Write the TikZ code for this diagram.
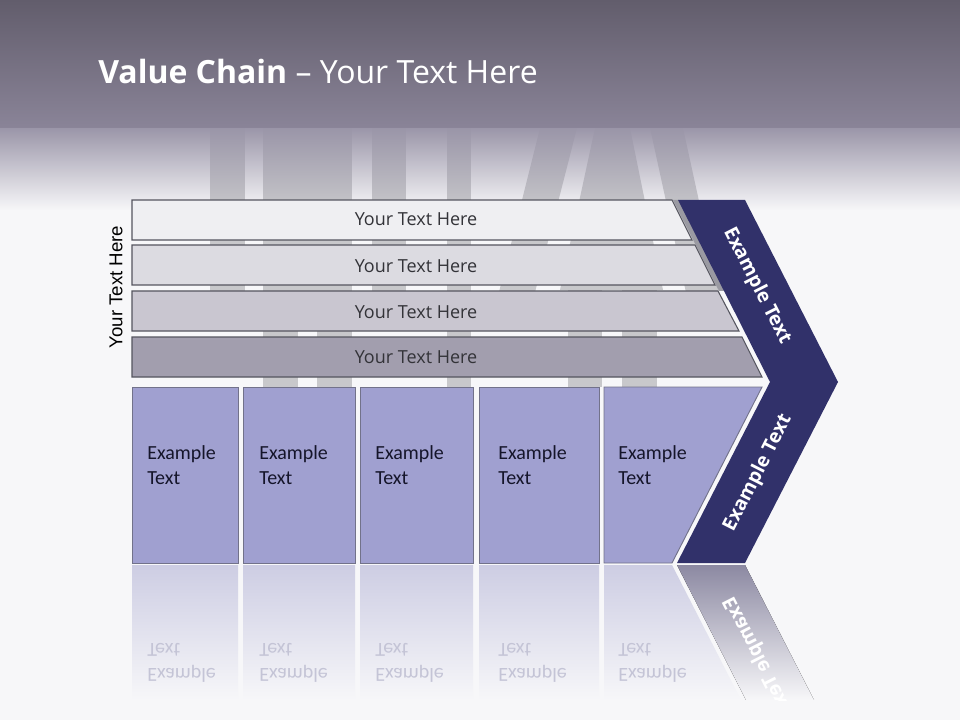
\documentclass[tikz,border=0pt]{standalone}
\usepackage{fontspec}
\setmainfont{Open Sans}
\newfontfamily\carl{Carlito}
\newfontfamily\lsans{Liberation Sans}
\usetikzlibrary{fadings}
\definecolor{bg}{HTML}{F7F7F9}
\definecolor{hdrtop}{HTML}{625D6C}
\definecolor{hdrbot}{HTML}{8A8498}
\definecolor{fadec}{HTML}{9A95A8}
\definecolor{stripe}{HTML}{C8C8CB}
\definecolor{rowa}{HTML}{EFEFF2}
\definecolor{rowb}{HTML}{DCDBE1}
\definecolor{rowc}{HTML}{C9C6D0}
\definecolor{rowd}{HTML}{A29EAE}
\definecolor{rowline}{HTML}{55555F}
\definecolor{rowtxt}{HTML}{333338}
\definecolor{navy}{HTML}{31316A}
\definecolor{shadowc}{HTML}{9A9AA2}
\definecolor{boxc}{HTML}{A0A0D0}
\definecolor{boxline}{HTML}{72728A}
\definecolor{boxtxt}{HTML}{15152A}
\definecolor{reflbox}{HTML}{CDCDE3}
\definecolor{reflnavy}{HTML}{8C89A2}
\definecolor{mirtxt}{HTML}{C4C4D6}
\tikzfading[name=fadedown, top color=transparent!0, bottom color=transparent!100]
\begin{document}
\begin{tikzpicture}[x=0.75pt,y=-0.75pt,
  rowshape/.style={fill=#1, draw=rowline, line width=0.8pt},
  rowtext/.style={font=\fontsize{13.5}{16}\selectfont, text=rowtxt, inner sep=0pt},
  boxshape/.style={fill=boxc, draw=boxline, line width=0.7pt},
  boxtext/.style={font=\carl\fontsize{15}{18.75}\selectfont, align=left, text=boxtxt, anchor=west, inner sep=0pt},
  mirbox/.style={top color=reflbox, bottom color=bg, draw=none},
  chevtext/.style={font=\bfseries\fontsize{14.5}{17}\selectfont, text=white, inner sep=0pt},
  stripefill/.style={fill=stripe}
]
\useasboundingbox (0,0) rectangle (960,720);
% background
\fill[bg] (0,0) rectangle (960,720);
% background stripes
\fill[stripefill] (210,128) rectangle (245,310);
\fill[stripefill] (263,128) rectangle (352,310);
\fill[stripefill] (263,310) rectangle (298,387);
\fill[stripefill] (317,310) rectangle (352,387);
\fill[stripefill] (372,128) rectangle (406,300);
\fill[stripefill] (447,128) rectangle (471,387);
\fill[stripefill] (540,128) -- (577,128) -- (533,300) -- (497,300) -- cycle;
\fill[stripefill] (595,128) -- (630,128) -- (663,290) -- (560,290) -- cycle;
\fill[stripefill] (650,128) -- (683,128) -- (725,320) -- (692,320) -- cycle;
\fill[stripefill] (568,288) rectangle (602,387);
\fill[stripefill] (622,288) rectangle (657,387);
% header fade band
\fill[fadec, path fading=fadedown, fit fading=true] (0,127) rectangle (960,210);
% header
\fill[top color=hdrtop, bottom color=hdrbot] (0,0) rectangle (960,128);
\node[anchor=base west, text=white, font=\fontsize{24}{29}\selectfont, inner sep=0pt] (title) at (98,84) {\textbf{Value Chain} – Your Text Here};
% left label
\node[font=\lsans\fontsize{14}{17}\selectfont, rotate=90, inner sep=0pt] (side) at (116,287) {Your Text Here};
% chevron shadow
\fill[shadowc] (673,200) -- (679,200) -- (725,291) -- (719,291) -- cycle;
% rows
\path[rowshape=rowa] (132,200) -- (672,200) -- (692,240) -- (132,240) -- cycle;
\path[rowshape=rowb] (132,245) -- (695,245) -- (715,285) -- (132,285) -- cycle;
\path[rowshape=rowc] (132,291) -- (718,291) -- (739,331) -- (132,331) -- cycle;
\path[rowshape=rowd] (132,337) -- (742,337) -- (762,377) -- (132,377) -- cycle;
\node[rowtext] (r1) at (416,219) {Your Text Here};
\node[rowtext] (r2) at (416,266) {Your Text Here};
\node[rowtext] (r3) at (416,312) {Your Text Here};
\node[rowtext] (r4) at (416,357) {Your Text Here};
% chevron
\fill[navy] (678,200) -- (745,200) -- (838,382) -- (745,563) -- (677,563) -- (770,382) -- cycle;
\node[chevtext, rotate=-63] (c1) at (757,286) {Example Text};
\node[chevtext, rotate=63] (c2) at (758,473) {Example Text};
% boxes
\path[boxshape] (132,387) rectangle (238,563);
\path[boxshape] (243,387) rectangle (355,563);
\path[boxshape] (360,387) rectangle (473,563);
\path[boxshape] (479,387) rectangle (599,563);
\path[boxshape] (604,387) -- (762,387) -- (672,563) -- (604,563) -- cycle;
\node[boxtext] (b1) at (147,465) {Example\\Text};
\node[boxtext] (b2) at (259,465) {Example\\Text};
\node[boxtext] (b3) at (375,465) {Example\\Text};
\node[boxtext] (b4) at (498,465) {Example\\Text};
\node[boxtext] (b5) at (618,465) {Example\\Text};
% reflections
\path[mirbox] (132,565) rectangle (238,700);
\path[mirbox] (243,565) rectangle (355,700);
\path[mirbox] (360,565) rectangle (473,700);
\path[mirbox] (479,565) rectangle (599,700);
\path[mirbox] (604,565) -- (672,565) -- (741,700) -- (604,700) -- cycle;
\node[boxtext, text=mirtxt, yscale=-1] (m1) at (147,663) {Example\\Text};
\node[boxtext, text=mirtxt, yscale=-1] (m2) at (259,663) {Example\\Text};
\node[boxtext, text=mirtxt, yscale=-1] (m3) at (375,663) {Example\\Text};
\node[boxtext, text=mirtxt, yscale=-1] (m4) at (498,663) {Example\\Text};
\node[boxtext, text=mirtxt, yscale=-1] (m5) at (618,663) {Example\\Text};
\begin{scope}
\clip (677,565) -- (745,565) -- (814,700) -- (746,700) -- cycle;
\fill[top color=reflnavy, bottom color=bg] (670,565) rectangle (820,700);
\node[chevtext, rotate=-63, yscale=-1] (mc) at (758,655) {Example Text};
\end{scope}
\end{tikzpicture}
\end{document}
